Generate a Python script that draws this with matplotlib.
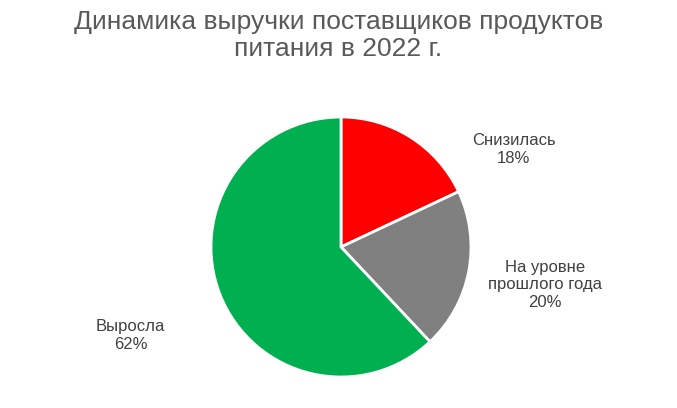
import matplotlib
matplotlib.use("Agg")
import matplotlib.pyplot as plt

categories = ["Снизилась", "На уровне\nпрошлого года", "Выросла"]
values = [18, 20, 62]
colors = ["#FF0000", "#808080", "#00B050"]
label_pos = [(1.33, 0.75), (1.57, -0.29), (-1.62, -0.68)]

plt.rcParams['font.family'] = ['Liberation Sans', 'DejaVu Sans']
fig = plt.figure(figsize=(6.77, 4.08), dpi=100)
fig.text(0.5, 0.975, "Динамика выручки поставщиков продуктов\nпитания в 2022 г.",
         ha="center", va="top", fontsize=19, color="#595959", linespacing=1.15)
ax = fig.add_axes([(341 - 130) / 677, (408 - 247 - 130) / 408, 260 / 677, 260 / 408])
ax.pie(values, colors=colors, startangle=90, counterclock=False,
       wedgeprops=dict(edgecolor="white", linewidth=2))
for c, v, (x, y) in zip(categories, values, label_pos):
    ax.text(x, y, f"{c}\n{v}%", ha="center", va="center", fontsize=12, color="#404040")
ax.set_xlim(-1, 1); ax.set_ylim(-1, 1)
ax.set_aspect("equal")
fig.savefig("out.png", dpi=100)
